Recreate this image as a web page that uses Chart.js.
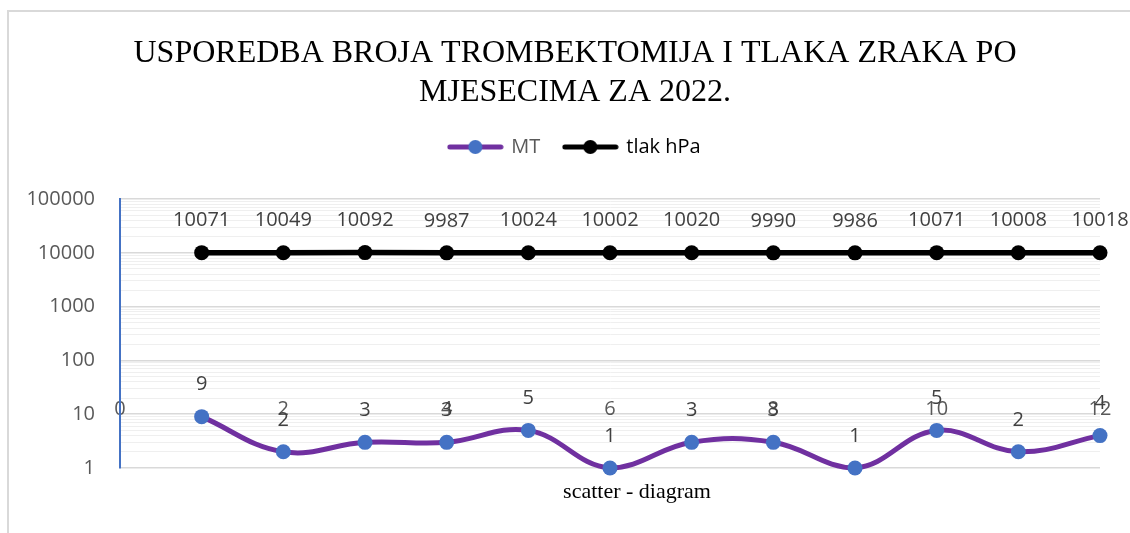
<!DOCTYPE html>
<html><head><meta charset="utf-8">
<script src="https://cdn.jsdelivr.net/npm/chart.js@4/dist/chart.umd.min.js"></script>
<style>
html,body{margin:0;padding:0;background:#fff;overflow:hidden}
#wrap{position:relative;width:1130px;height:533px;overflow:hidden}
#frame{position:absolute;left:7px;top:10px;width:1300px;height:700px;border:2px solid #d9d9d9;box-sizing:border-box}
canvas{position:absolute;left:0;top:0}
</style></head><body>
<div id="wrap"><div id="frame"></div><canvas id="c" width="1130" height="533"></canvas></div>
<script>
const months = [1, 2, 3, 4, 5, 6, 7, 8, 9, 10, 11, 12];
const mtValues = [9, 2, 3, 3, 5, 1, 3, 3, 1, 5, 2, 4];
const tlakValues = [10071, 10049, 10092, 9987, 10024, 10002, 10020, 9990, 9986, 10071, 10008, 10018];
const xTickValues = [0, 2, 4, 6, 8, 10, 12];
const yTickLabels = [1, 10, 100, 1000, 10000, 100000];
const seriesNames = ['MT', 'tlak hPa'];
const titleLines = ['USPOREDBA BROJA TROMBEKTOMIJA I TLAKA ZRAKA PO', 'MJESECIMA ZA 2022.'];
const xAxisTitle = 'scatter - diagram';

const LABEL_FONT = '"Open Sans", sans-serif';
const SERIF_FONT = '"Liberation Serif", "Times New Roman", serif';

function legendSwatch(lineColor, markerColor) {
  const c = document.createElement('canvas');
  c.width = 57; c.height = 16;
  const g = c.getContext('2d');
  g.strokeStyle = lineColor; g.lineWidth = 5; g.lineCap = 'round';
  g.beginPath(); g.moveTo(3, 8); g.lineTo(54, 8); g.stroke();
  g.fillStyle = markerColor;
  g.beginPath(); g.arc(28.5, 8, 7, 0, Math.PI * 2); g.fill();
  return c;
}
const swatches = [legendSwatch('#7030A0', '#4472C4'), legendSwatch('#000000', '#000000')];
const legendTextColors = ['#595959', '#000000'];

const dataLabels = {
  id: 'dataLabels',
  afterDatasetsDraw(chart) {
    const ctx = chart.ctx;
    ctx.save();
    ctx.font = '20px ' + LABEL_FONT;
    ctx.fillStyle = '#404040';
    ctx.textAlign = 'center';
    ctx.textBaseline = 'middle';
    const sources = [mtValues, tlakValues];
    chart.data.datasets.forEach((ds, i) => {
      const meta = chart.getDatasetMeta(i);
      meta.data.forEach((el, j) => {
        ctx.fillText(String(sources[i][j]), el.x, el.y - 32);
      });
    });
    ctx.restore();
  }
};

const axisTitle = {
  id: 'axisTitle',
  afterDraw(chart) {
    const {ctx, chartArea} = chart;
    ctx.save();
    ctx.font = '22px ' + SERIF_FONT;
    ctx.fillStyle = '#000000';
    ctx.textAlign = 'center';
    ctx.textBaseline = 'middle';
    ctx.fillText(xAxisTitle, (chartArea.left + chartArea.right) / 2 + 27, chartArea.bottom + 24);
    ctx.restore();
  }
};

const isMajor = v => yTickLabels.includes(v);

new Chart(document.getElementById('c'), {
  type: 'scatter',
  data: {
    datasets: [
      {
        label: seriesNames[0],
        data: months.map((m, i) => ({x: m, y: mtValues[i]})),
        showLine: true,
        tension: 0.4,
        borderColor: '#7030A0',
        borderWidth: 5,
        pointRadius: 7.5,
        pointHoverRadius: 7.5,
        pointBackgroundColor: '#4472C4',
        pointBorderColor: '#4472C4',
        pointBorderWidth: 0,
        clip: false
      },
      {
        label: seriesNames[1],
        data: months.map((m, i) => ({x: m, y: tlakValues[i]})),
        showLine: true,
        tension: 0,
        borderColor: '#000000',
        borderWidth: 5.5,
        pointRadius: 7.5,
        pointHoverRadius: 7.5,
        pointBackgroundColor: '#000000',
        pointBorderColor: '#000000',
        pointBorderWidth: 0,
        clip: false
      }
    ]
  },
  options: {
    responsive: false,
    animation: false,
    devicePixelRatio: 1,
    layout: {padding: {left: 20, right: 0, top: 0, bottom: 65}},
    plugins: {
      tooltip: {enabled: false},
      title: {
        display: true,
        text: titleLines,
        color: '#000000',
        font: {family: SERIF_FONT, size: 32, weight: 'normal', lineHeight: 1.2},
        padding: {top: 34.8, bottom: 1.4}
      },
      legend: {
        display: true,
        position: 'top',
        labels: {
          usePointStyle: true,
          pointStyleWidth: 52,
          padding: 24,
          font: {family: LABEL_FONT, size: 20},
          generateLabels: (chart) => seriesNames.map((name, i) => ({
            text: name,
            pointStyle: swatches[i],
            fontColor: legendTextColors[i],
            fillStyle: 'transparent',
            strokeStyle: 'transparent',
            lineWidth: 0,
            hidden: false,
            datasetIndex: i
          }))
        }
      }
    },
    scales: {
      x: {
        type: 'linear',
        min: 0,
        max: 12,
        position: {y: 10},
        afterBuildTicks: s => { s.ticks = xTickValues.map(v => ({value: v})); },
        afterFit: s => { s.paddingRight = 30; },
        ticks: {
          autoSkip: false,
          maxRotation: 0,
          padding: -17,
          color: '#595959',
          font: {family: LABEL_FONT, size: 20}
        },
        grid: {display: false, drawTicks: false},
        border: {display: false}
      },
      xTop: {
        type: 'linear',
        axis: 'x',
        position: 'top',
        display: true,
        ticks: {display: false},
        grid: {display: false, drawTicks: false},
        border: {display: false},
        afterFit: s => { s.height = 32; }
      },
      y: {
        type: 'logarithmic',
        min: 1,
        max: 100000,
        position: 'left',
        afterBuildTicks: s => {
          const t = [];
          for (let k = 0; k < yTickLabels.length - 1; k++) {
            for (let m = 1; m <= 9; m++) t.push({value: m * yTickLabels[k], major: m === 1});
          }
          t.push({value: yTickLabels[yTickLabels.length - 1], major: true});
          s.ticks = t;
        },
        afterFit: s => { s.width = 100; },
        ticks: {
          autoSkip: false,
          padding: 25,
          color: '#595959',
          font: {family: LABEL_FONT, size: 20},
          callback: v => isMajor(v) ? String(v) : ''
        },
        grid: {
          drawTicks: false,
          color: c => (c.tick && isMajor(c.tick.value)) ? '#d9d9d9' : '#efefef',
          lineWidth: c => (c.tick && isMajor(c.tick.value)) ? 1.5 : 1
        },
        border: {display: true, color: '#4472C4', width: 2}
      }
    }
  },
  plugins: [dataLabels, axisTitle]
});
</script>
</body></html>
